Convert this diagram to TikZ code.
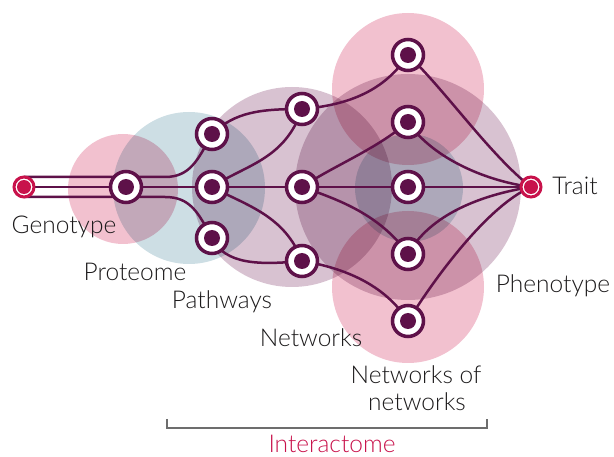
\documentclass[tikz,border=0pt]{standalone}
\usepackage{fontspec}
\IfFontExistsTF{Lato Light}{\setmainfont{Lato Light}}{\setmainfont{Lato}}
\definecolor{dp}{HTML}{5E1149}
\definecolor{rd}{HTML}{C8124B}
\definecolor{pk}{HTML}{F2C1CF}
\definecolor{bl}{HTML}{CDDEE4}
\definecolor{pu}{HTML}{D8C2D1}
\definecolor{txt}{HTML}{1C1A1B}
\definecolor{gr}{HTML}{6D6D6D}
\pgfdeclarelayer{bg}
\pgfdeclarelayer{edges}
\pgfsetlayers{bg,edges,main}
\begin{document}
\begin{tikzpicture}[x=1pt,y=-1pt,
  hub/.style={circle,draw=dp,line width=3.5pt,fill=white,minimum size=31pt,inner sep=0pt,
    path picture={\fill[dp] (path picture bounding box.center) circle (8pt);}},
  endpt/.style={circle,draw=rd,line width=3pt,fill=white,minimum size=20pt,inner sep=0pt,
    path picture={\fill[rd] (path picture bounding box.center) circle (7pt);}},
  link/.style={draw=dp,line width=2.5pt},
  lbl/.style={anchor=base,font=\fontsize{24.5}{28}\selectfont,text=txt,inner sep=0pt}]
\useasboundingbox (0,0) rectangle (614,457);
% background circles
\begin{pgfonlayer}{bg}
\begin{scope}[blend group=multiply]
\fill[pu] (292,187) circle (100pt);
\fill[pu] (408,187) circle (113pt);
\fill[bl] (189,188) circle (76pt);
\fill[bl] (409,188) circle (54pt);
\fill[pk] (123,189) circle (55pt);
\fill[pk] (408,89) circle (76pt);
\fill[pk] (408,287) circle (76pt);
\end{scope}
\end{pgfonlayer}
% nodes
\node[endpt] (g) at (24,187) {};
\node[hub] (g2) at (126,187) {};
\node[hub] (p1) at (212,134) {};
\node[hub] (p2) at (212,187) {};
\node[hub] (p3) at (212,238) {};
\node[hub] (w1) at (302,109) {};
\node[hub] (w2) at (302,187) {};
\node[hub] (w3) at (302,261) {};
\node[hub] (n1) at (408,55) {};
\node[hub] (n2) at (408,122) {};
\node[hub] (n3) at (408,187) {};
\node[hub] (n4) at (408,254) {};
\node[hub] (n5) at (408,321) {};
\node[endpt] (t) at (531,187) {};
% connectors
\begin{pgfonlayer}{edges}
\draw[link] (g.center) ++(0,-10) -- ++(141,0) .. controls +(25,0) and +(-14,26) .. (p1.center);
\draw[link] (g.center) -- (p2.center);
\draw[link] (g.center) ++(0,10) -- ++(141,0) .. controls +(25,0) and +(-14,-26) .. (p3.center);
\draw[link] (p1.center) .. controls (235,112) and (260,109) .. (w1.center);
\draw[link] (p2.center) .. controls (245,165) and (285,160) .. (w1.center);
\draw[link] (p2.center) -- (w2.center);
\draw[link] (p2.center) .. controls (245,205) and (285,215) .. (w3.center);
\draw[link] (p3.center) .. controls (225,265) and (260,265) .. (w3.center);
\draw[link] (w1.center) .. controls (350,105) and (385,90) .. (n1.center);
\draw[link] (w2.center) .. controls (335,165) and (375,150) .. (n2.center);
\draw[link] (w2.center) -- (n3.center);
\draw[link] (w2.center) .. controls (340,200) and (380,215) .. (n4.center);
\draw[link] (w3.center) .. controls (345,268) and (385,285) .. (n5.center);
\draw[link] (n1.center) .. controls (445,90) and (490,155) .. (t.center);
\draw[link] (n2.center) .. controls (430,155) and (480,180) .. (t.center);
\draw[link] (n3.center) -- (t.center);
\draw[link] (n4.center) .. controls (430,215) and (480,195) .. (t.center);
\draw[link] (n5.center) .. controls (440,270) and (490,205) .. (t.center);
\end{pgfonlayer}
% labels
\node[lbl] (lgen) at (64,234) {Genotype};
\node[lbl] (lpro) at (135,281) {Proteome};
\node[lbl] (lpat) at (222,309) {Pathways};
\node[lbl] (lnet) at (311,347) {Networks};
\node[lbl] (lnn1) at (416,384) {Networks of};
\node[lbl] (lnn2) at (417,410) {networks};
\node[lbl] (lphe) at (553,293) {Phenotype};
\node[lbl] (ltra) at (575,195) {Trait};
\draw[gr,line width=2.5pt] (167,419) -- (167,428) -- (487,428) -- (487,419);
\node[lbl,text=rd] (lint) at (332,453) {Interactome};
\end{tikzpicture}
\end{document}
